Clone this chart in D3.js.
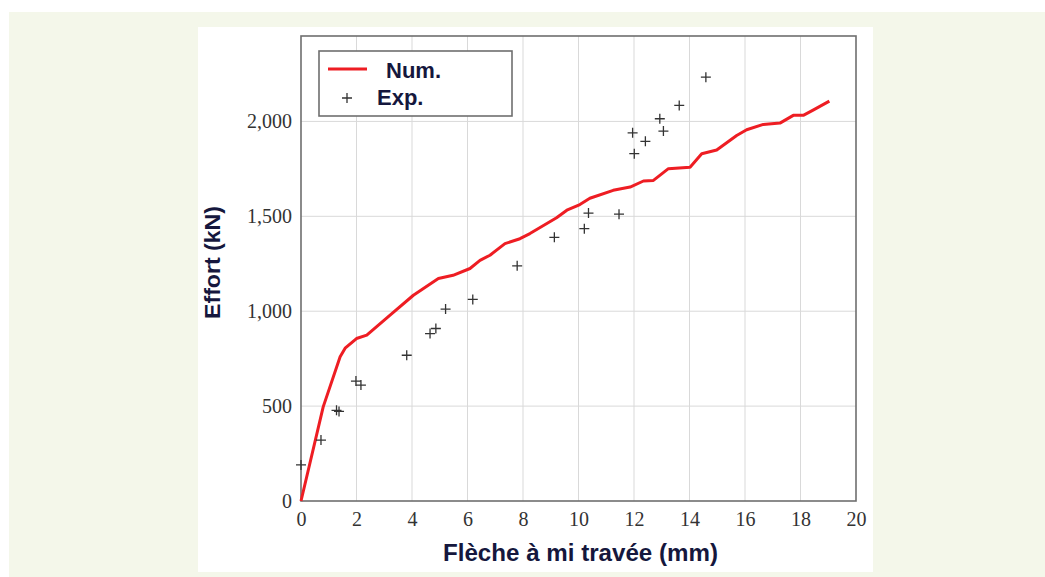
<!DOCTYPE html>
<html>
<head>
<meta charset="utf-8">
<script src="https://cdn.jsdelivr.net/npm/d3@7"></script>
<style>
  html, body { margin: 0; padding: 0; background: #fff; }
  svg { display: block; }
</style>
</head>
<body>
<div id="chart"></div>
<script>
// Numerical curve (mm, kN)
const numX = [0, 0.8, 1.41, 1.59, 2.0, 2.37, 3.21, 4.05, 4.95, 5.48, 6.09, 6.45, 6.81, 7.35, 7.89, 8.25, 9.21, 9.58, 10.05, 10.41, 11.25, 11.86, 12.34, 12.7, 13.24, 14.02, 14.44, 14.98, 15.7, 16.06, 16.66, 17.26, 17.74, 18.1, 18.47, 19.04];
const numY = [0, 496, 760, 805, 856, 874, 979, 1084, 1172, 1189, 1225, 1268, 1295, 1356, 1382, 1409, 1492, 1532, 1562, 1595, 1637, 1654, 1686, 1689, 1751, 1759, 1830, 1849, 1926, 1956, 1984, 1991, 2032, 2032, 2061, 2107];

// Experimental points
const expX = [0, 0.72, 1.28, 1.37, 1.98, 2.16, 3.81, 4.65, 4.86, 5.21, 6.19, 7.79, 9.13, 10.21, 10.36, 11.46, 11.95, 12.01, 12.41, 12.93, 13.06, 13.63, 14.59];
const expY = [190, 321, 478, 472, 632, 611, 768, 882, 909, 1011, 1062, 1239, 1389, 1435, 1517, 1511, 1940, 1830, 1895, 2014, 1949, 2084, 2233];

const xTicks = [0, 2, 4, 6, 8, 10, 12, 14, 16, 18, 20];
const yTicks = [0, 500, 1000, 1500, 2000];
const legendLabels = ["Num.", "Exp."];

const W = 1045, H = 577;
const plot = { left: 301, right: 856, top: 36, bottom: 501 };
const textColor = "#15173d";

const svg = d3.select("#chart").append("svg").attr("width", W).attr("height", H);

// backgrounds
svg.append("rect").attr("x", 9).attr("y", 12).attr("width", W - 9).attr("height", H - 12).attr("fill", "#f4f7ea");
svg.append("rect").attr("x", 198).attr("y", 27).attr("width", 675).attr("height", 545).attr("fill", "#fff");

const x = d3.scaleLinear().domain([0, 20]).range([plot.left, plot.right]);
const y = d3.scaleLinear().domain([0, 2450]).range([plot.bottom, plot.top]);

// grid
const grid = svg.append("g").attr("stroke", "#d9d9d9").attr("stroke-width", 1);
grid.selectAll(".gx").data(xTicks.slice(1, -1)).join("line")
    .attr("x1", (d) => x(d)).attr("x2", (d) => x(d))
    .attr("y1", plot.top).attr("y2", plot.bottom);
grid.selectAll(".gy").data(yTicks.slice(1)).join("line")
    .attr("x1", plot.left).attr("x2", plot.right)
    .attr("y1", (d) => y(d)).attr("y2", (d) => y(d));

// axes (pgfplots-like box)
const fmt = d3.format(",");
const xAxis = svg.append("g").attr("transform", `translate(0,${plot.bottom})`)
    .call(d3.axisBottom(x).tickValues(xTicks).tickSize(0).tickPadding(11));
const yAxis = svg.append("g").attr("transform", `translate(${plot.left},0)`)
    .call(d3.axisLeft(y).tickValues(yTicks).tickFormat(fmt).tickSize(0).tickPadding(9));
[xAxis, yAxis].forEach((axis) => {
    axis.select(".domain").remove();
    axis.selectAll("text")
        .attr("font-family", "'Liberation Serif', 'DejaVu Serif', serif")
        .attr("font-size", 20)
        .attr("fill", "#333");
});
xAxis.selectAll("text").attr("dy", "0.71em");

svg.append("rect")
    .attr("x", plot.left).attr("y", plot.top)
    .attr("width", plot.right - plot.left).attr("height", plot.bottom - plot.top)
    .attr("fill", "none").attr("stroke", "#6e6e6e").attr("stroke-width", 1.6);

// numerical curve
const line = d3.line().x((d) => x(d[0])).y((d) => y(d[1]));
svg.append("path")
    .datum(d3.zip(numX, numY))
    .attr("d", line)
    .attr("fill", "none")
    .attr("stroke", "#ee1d23")
    .attr("stroke-width", 3)
    .attr("stroke-linejoin", "round");

// experimental crosses
const plus = (sel) => sel.append("path")
    .attr("d", "M-5,0H5M0,-5V5")
    .attr("stroke", "#333")
    .attr("stroke-width", 1.3)
    .attr("fill", "none");
svg.append("g").selectAll("g").data(d3.zip(expX, expY)).join("g")
    .attr("transform", (d) => `translate(${x(d[0])},${y(d[1])})`)
    .call(plus);

// legend
const legend = svg.append("g");
legend.append("rect").attr("x", 319).attr("y", 51).attr("width", 193).attr("height", 65)
    .attr("fill", "#fff").attr("stroke", "#6e6e6e").attr("stroke-width", 1.6);
legend.append("line").attr("x1", 328).attr("x2", 367).attr("y1", 69).attr("y2", 69)
    .attr("stroke", "#ee1d23").attr("stroke-width", 3);
legend.append("g").attr("transform", "translate(347,98)").call(plus);
legend.selectAll("text").data(legendLabels).join("text")
    .attr("x", (d, i) => (i === 0 ? 386 : 377))
    .attr("y", (d, i) => (i === 0 ? 78 : 105))
    .attr("font-family", "'Liberation Sans Narrow', 'Liberation Sans', Arial, sans-serif")
    .attr("font-weight", "bold")
    .attr("font-size", 22)
    .attr("fill", textColor)
    .text((d) => d);

// axis titles
svg.append("text")
    .attr("x", (plot.left + plot.right) / 2 + 2).attr("y", 561)
    .attr("text-anchor", "middle")
    .attr("font-family", "'Liberation Sans Narrow', 'Liberation Sans', Arial, sans-serif")
    .attr("font-weight", "bold").attr("font-size", 23)
    .attr("textLength", 275).attr("lengthAdjust", "spacingAndGlyphs")
    .attr("fill", textColor)
    .text("Flèche à mi travée (mm)");

svg.append("text")
    .attr("transform", `translate(220,${(plot.top + plot.bottom) / 2 - 6}) rotate(-90)`)
    .attr("text-anchor", "middle")
    .attr("font-family", "'Liberation Sans Narrow', 'Liberation Sans', Arial, sans-serif")
    .attr("font-weight", "bold").attr("font-size", 22)
    .attr("textLength", 113).attr("lengthAdjust", "spacingAndGlyphs")
    .attr("fill", textColor)
    .text("Effort (kN)");
</script>
</body>
</html>
